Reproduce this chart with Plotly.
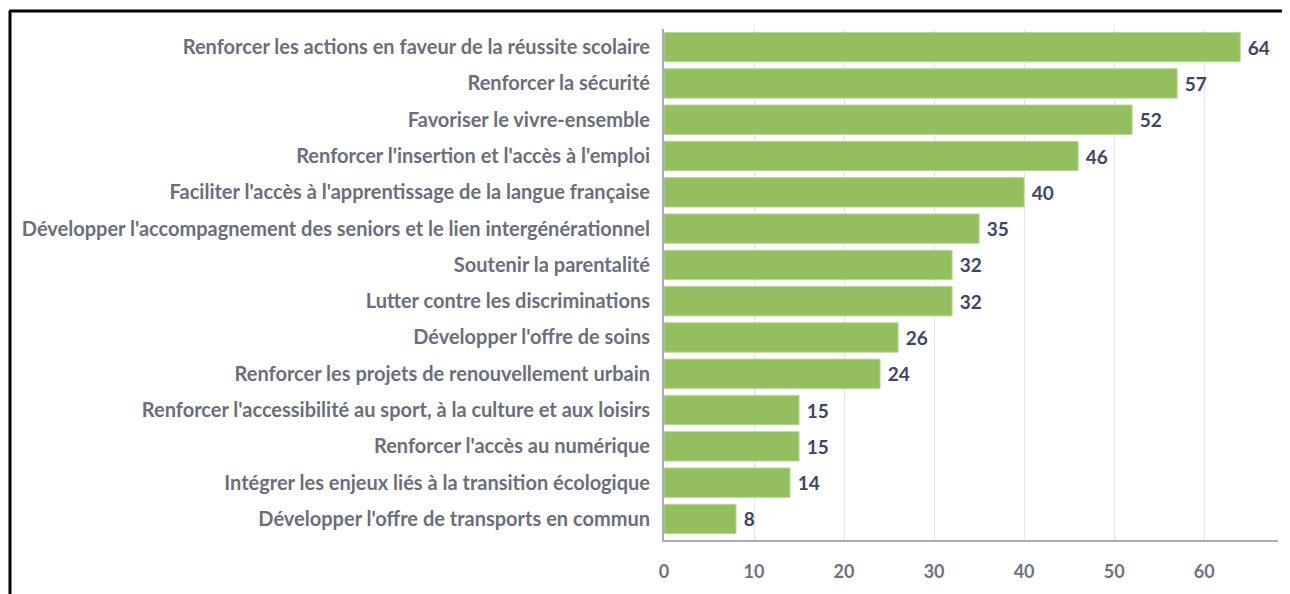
import plotly.graph_objects as go

categories = [
    "Renforcer les actions en faveur de la réussite scolaire",
    "Renforcer la sécurité",
    "Favoriser le vivre-ensemble",
    "Renforcer l'insertion et l'accès à l'emploi",
    "Faciliter l'accès à l'apprentissage de la langue française",
    "Développer l'accompagnement des seniors et le lien intergénérationnel",
    "Soutenir la parentalité",
    "Lutter contre les discriminations",
    "Développer l'offre de soins",
    "Renforcer les projets de renouvellement urbain",
    "Renforcer l'accessibilité au sport, à la culture et aux loisirs",
    "Renforcer l'accès au numérique",
    "Intégrer les enjeux liés à la transition écologique",
    "Développer l'offre de transports en commun",
]
values = [64, 57, 52, 46, 40, 35, 32, 32, 26, 24, 15, 15, 14, 8]
x_ticks = [0, 10, 20, 30, 40, 50, 60]

OFF = 8  # page body margin
W, H = 1290 - OFF, 594 - OFF
# target page coordinates of the plot area
PL, PR, PT, PB = 664, 1278, 29, 543
ML, MR, MT, MB = PL - OFF, W - (PR - OFF), PT - OFF, H - (PB - OFF)
pw, ph = W - ML - MR, H - MT - MB

def px_x(x):
    return (x - OFF - ML) / pw

def px_y(y):
    return (H - MB - (y - OFF)) / ph

fig = go.Figure(
    go.Bar(
        x=values,
        y=categories,
        orientation="h",
        marker=dict(color="#94bf5f", line=dict(color="#b9d79c", width=1)),
        text=values,
        textposition="outside",
        texttemplate=" %{x}",
        textfont=dict(family="Lato", size=19, color="#3e4565", weight="bold"),
        cliponaxis=False,
        hoverinfo="skip",
    )
)

fig.update_layout(
    width=W,
    height=H,
    margin=dict(l=ML, r=MR, t=MT, b=MB),
    paper_bgcolor="white",
    plot_bgcolor="white",
    bargap=0.19,
    showlegend=False,
    font=dict(family="Lato"),
)

fig.update_xaxes(
    range=[0, 68.2],
    tickvals=x_ticks,
    showgrid=True,
    gridcolor="#e6e7eb",
    gridwidth=1,
    zeroline=False,
    showline=True,
    linecolor="#a9adbb",
    linewidth=2,
    ticks="",
    ticklabelstandoff=14,
    tickfont=dict(family="Lato", size=18, color="#6f7280", weight="bold"),
)

fig.update_yaxes(
    categoryorder="array",
    categoryarray=categories[::-1],
    range=[-0.58, 13.5],
    showgrid=False,
    zeroline=False,
    showline=True,
    linecolor="#a9adbb",
    linewidth=2,
    ticks="outside",
    ticklen=8,
    tickcolor="rgba(0,0,0,0)",
    tickfont=dict(family="Lato", size=20, color="#6b6e7b", weight="bold"),
)

# outer frame (left and top edges visible in the reference)
fig.add_shape(type="line", xref="paper", yref="paper",
              x0=px_x(10), x1=px_x(10), y0=px_y(11), y1=px_y(600),
              line=dict(color="black", width=3))
fig.add_shape(type="line", xref="paper", yref="paper",
              x0=px_x(9), x1=px_x(1300), y0=px_y(11), y1=px_y(11),
              line=dict(color="black", width=3))

fig.write_html("out.html")
